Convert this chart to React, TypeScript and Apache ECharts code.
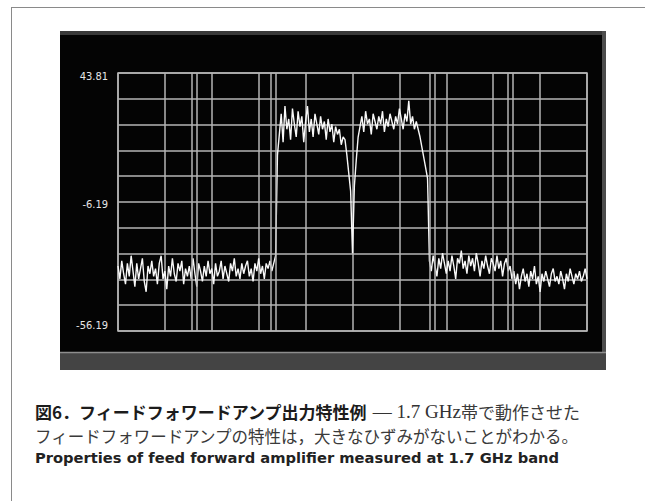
import React, { useEffect, useRef } from "react";
import * as echarts from "echarts";

// ---- data (dB values, left to right) ----
const X_STEP = 0.4; // horizontal spacing of trace points, in grid-division percent
const Y_MIN = -56.19;
const Y_MAX = 43.81;
const Y_TICK_VALUES = [43.81, -6.19, -56.19];
const Y_TICK_LABELS = ["43.81", "-6.19", "-56.19"];
const MARKER_X = [15.8, 16.8, 32.5, 33.6, 66.4, 67.5, 83.2, 84.2];

const noiseLeft = [
  -31, -36, -29, -34, -38, -30, -35, -27, -33, -39,
  -30, -36, -32, -28, -37, -41, -31, -34, -29, -35,
  -32, -38, -30, -27, -36, -33, -40, -31, -35, -28,
  -34, -37, -30, -33, -29, -38, -32, -35, -31, -36,
  -28, -34, -39, -30, -33, -37, -31, -35, -29, -34,
  -32, -38, -30, -35, -33, -29, -36, -31, -34, -37,
  -30, -33, -28, -35, -32, -36, -30, -34, -31, -29,
  -35, -32, -37, -30, -33, -28, -34, -31, -36, -30,
  -32, -29, -33, -30, -27,
];
const riseEdge = [12];
const band1 = [
  20, 28, 17, 31, 22, 26, 18, 30, 24, 19,
  29, 23, 27, 17, 25, 31, 21, 26, 19, 28,
  24, 20, 27, 22, 25, 18, 26, 21, 24, 17,
  23, 20, 22, 16, 19, 18,
];
const notch = [12, 5, -2, -26, 0, 10, 19];
const band2 = [
  23, 27, 21, 29, 24, 26, 20, 28, 25, 22,
  27, 24, 29, 21, 26, 23, 28, 25, 22, 27,
  24, 30, 26, 22, 28, 25, 33, 24, 27, 22,
  25, 22, 19, 15, 11, 7, 3,
];
const noiseRight1 = [
  -29, -33, -27, -31, -35, -28, -32, -26, -30, -34,
  -29, -33, -27, -31, -36, -28, -30, -25, -32, -29,
  -34, -27, -31, -28, -33, -26, -30, -35, -29, -32,
  -27, -31, -34, -28, -30, -33, -27, -32, -29, -35,
  -30, -28, -33, -31,
];
const noiseRight2 = [
  -36, -33, -38, -34, -40, -35, -32, -37, -34, -39,
  -33, -36, -31, -38, -35, -41, -34, -37, -33, -36,
  -39, -34, -32, -37, -35, -38, -33, -36, -40, -34,
  -37, -32, -35, -38, -34, -36, -33, -37, -35, -32, -36,
];

const CAPTION_1A = "図6．フィードフォワードアンプ出力特性例";
const CAPTION_1B = " — 1.7 GHz";
const CAPTION_1C = "帯で動作させた";
const CAPTION_2 = "フィードフォワードアンプの特性は，大きなひずみがないことがわかる。";
const CAPTION_3 = "Properties of feed forward amplifier measured at 1.7 GHz band";

const GRID_COLOR = "#b4b4b4";
const LABEL_FONT = "'Liberation Sans Narrow', 'DejaVu Sans Condensed', sans-serif";

export default function App() {
  const ref = useRef<HTMLDivElement>(null);

  useEffect(() => {
    if (!ref.current) return;
    const chart = echarts.init(ref.current, undefined, { renderer: "svg" });

    const trace = [
      ...noiseLeft,
      ...riseEdge,
      ...band1,
      ...notch,
      ...band2,
      ...noiseRight1,
      ...noiseRight2,
    ];
    const data = trace.map((db, i) => [i * X_STEP, db - Y_MIN]);
    const span = Math.round((Y_MAX - Y_MIN) * 100) / 100;

    const labelFor = (v: number) => {
      const db = v + Y_MIN;
      const idx = Y_TICK_VALUES.findIndex((t) => Math.abs(t - db) < 0.05);
      if (idx < 0) return "";
      const key = idx === 0 ? "t" : idx === 1 ? "m" : "b";
      return `{${key}|${Y_TICK_LABELS[idx]}}`;
    };
    const labelStyle = {
      fontFamily: LABEL_FONT,
      fontSize: 11,
      color: "#e6e6e6",
    };

    chart.setOption({
      animation: false,
      backgroundColor: "#ffffff",
      grid: {
        left: 118,
        right: 58,
        top: 73,
        bottom: 170,
        show: true,
        borderColor: GRID_COLOR,
        borderWidth: 1.5,
        backgroundColor: "transparent",
      },
      xAxis: {
        type: "value",
        min: 0,
        max: 100,
        interval: 10,
        axisLine: { show: false },
        axisTick: { show: false },
        axisLabel: { show: false },
        splitLine: { show: true, lineStyle: { color: GRID_COLOR, width: 1.5 } },
      },
      yAxis: {
        type: "value",
        min: 0,
        max: span,
        interval: 10,
        axisLine: { show: false },
        axisTick: { show: false },
        axisLabel: {
          show: true,
          margin: 10,
          formatter: labelFor,
          rich: {
            t: { ...labelStyle, padding: [7, 0, 0, 0] },
            m: { ...labelStyle, padding: [5, 0, 0, 0] },
            b: { ...labelStyle, padding: [0, 0, 12, 0] },
          },
        },
        splitLine: { show: true, lineStyle: { color: GRID_COLOR, width: 1.5 } },
      },
      series: [
        {
          type: "line",
          data,
          symbol: "none",
          showSymbol: false,
          z: 3,
          lineStyle: { color: "#f8f8f8", width: 1.4 },
          markLine: {
            silent: true,
            symbol: ["none", "none"],
            label: { show: false },
            lineStyle: { color: GRID_COLOR, width: 1.5, type: "solid" },
            data: MARKER_X.map((x) => ({ xAxis: x })),
          },
        },
      ],
      graphic: [
        { type: "rect", z: -10, silent: true, shape: { x: 60, y: 31, width: 546, height: 339 }, style: { fill: "#040404" } },
        { type: "rect", z: -9, silent: true, shape: { x: 60, y: 31, width: 546, height: 4 }, style: { fill: "#3a3a3a" } },
        { type: "rect", z: -9, silent: true, shape: { x: 602, y: 31, width: 4, height: 321 }, style: { fill: "#4d4d4d" } },
        { type: "rect", z: -9, silent: true, shape: { x: 60, y: 352, width: 546, height: 18 }, style: { fill: "#444444" } },
        { type: "line", z: -8, silent: true, shape: { x1: 60, y1: 352.5, x2: 606, y2: 352.5 }, style: { stroke: "#8e8e8e", lineWidth: 1.5 } },
        { type: "line", silent: true, shape: { x1: 11.5, y1: 7, x2: 11.5, y2: 501 }, style: { stroke: "#8a8a8a", lineWidth: 1 } },
        { type: "line", silent: true, shape: { x1: 11, y1: 7.5, x2: 645, y2: 7.5 }, style: { stroke: "#8a8a8a", lineWidth: 1 } },
        {
          type: "text",
          x: 35,
          y: 411,
          style: {
            text: `{b|${CAPTION_1A}}{s|${CAPTION_1B}}{m|${CAPTION_1C}}`,
            align: "left",
            verticalAlign: "middle",
            rich: {
              b: { fontFamily: "'Noto Sans CJK JP'", fontWeight: "bold", fontSize: 17, lineHeight: 17, fill: "#1c1c1c" },
              s: { fontFamily: "'Liberation Serif', serif", fontSize: 19, lineHeight: 17, fill: "#333333" },
              m: { fontFamily: "'Noto Sans CJK JP'", fontSize: 17, lineHeight: 17, fill: "#3a3a3a" },
            },
          },
        },
        {
          type: "text",
          x: 35,
          y: 436,
          style: {
            text: CAPTION_2,
            align: "left",
            verticalAlign: "middle",
            fontFamily: "'Noto Sans CJK JP'",
            fontSize: 16.5,
            lineHeight: 17,
            fill: "#3a3a3a",
          },
        },
        {
          type: "text",
          x: 35,
          y: 457.5,
          style: {
            text: CAPTION_3,
            align: "left",
            verticalAlign: "middle",
            fontFamily: "'DejaVu Sans', sans-serif",
            fontWeight: "bold",
            fontSize: 14.7,
            lineHeight: 15,
            fill: "#222222",
          },
        },
      ],
    });

    return () => chart.dispose();
  }, []);

  return (
    <div
      ref={ref}
      style={{ position: "absolute", left: 0, top: 0, width: 645, height: 501 }}
    />
  );
}
